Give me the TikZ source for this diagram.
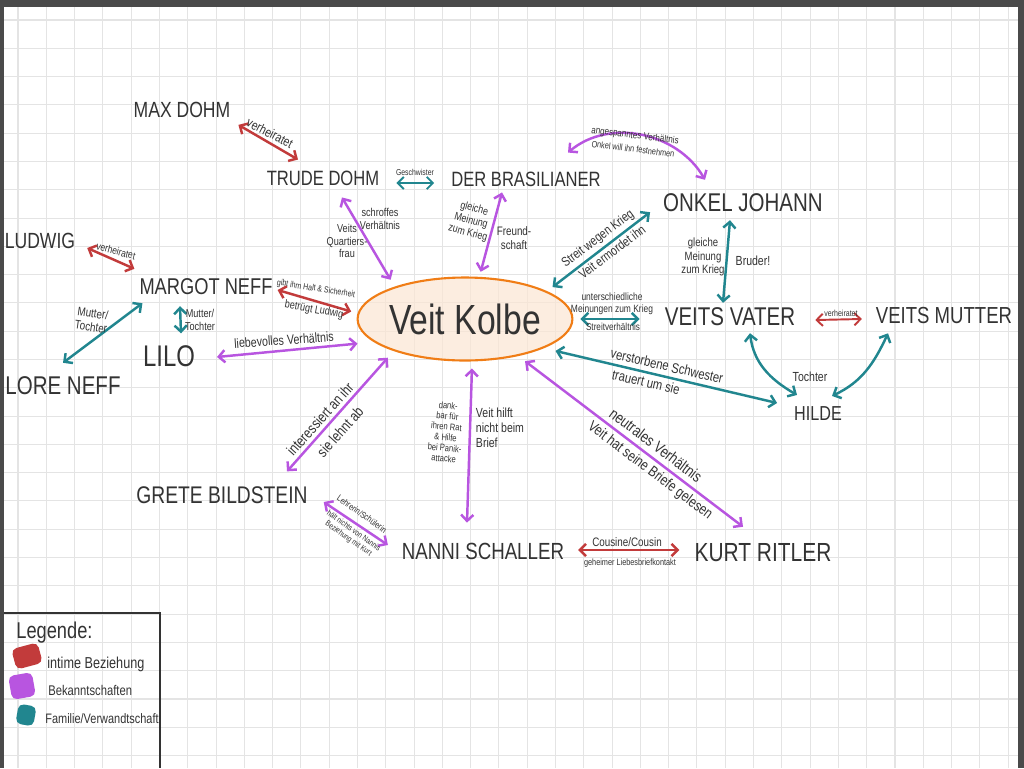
\documentclass[tikz,border=0pt]{standalone}
\usepackage{fontspec}
\newfontfamily\hand[FakeStretch=0.8]{Liberation Sans}
\newcommand\hw[1]{\hand\fontsize{#1}{\fpeval{1.12*#1}}\selectfont}
\usetikzlibrary{arrows.meta,shapes.geometric}
\definecolor{ink}{HTML}{333333}
\definecolor{frame}{HTML}{4A4A4A}
\definecolor{gridgray}{HTML}{E4E4E4}
\definecolor{intimred}{HTML}{C23B3B}
\definecolor{lila}{HTML}{B855E0}
\definecolor{petrol}{HTML}{21868F}
\definecolor{kolbe}{HTML}{F07D16}
\definecolor{kolbefill}{HTML}{FCE6D4}
\begin{document}
\begin{tikzpicture}[x=0.02cm, y=-0.02cm,
  person/.style={font=\hw{#1}, text=ink, inner sep=1pt},
  person/.default=13.5,
  lbl/.style={font=\hw{#1}, text=ink, inner sep=0pt, align=center},
  lbl/.default=7,
  rel/.style={draw=#1, line width=1.4pt, line cap=round, <->},
  intim/.style={rel=intimred},
  bekannt/.style={rel=lila},
  familie/.style={rel=petrol},
  swatch/.style={rounded corners=3pt, inner sep=0pt},
  >={Straight Barb[length=3.5pt,width=7pt]}]
  \useasboundingbox (0,0) rectangle (1024,768);
  \fill[white] (0,0) rectangle (1024,768);
  \foreach \i in {0,...,35}
    \draw[gridgray, line width=0.6pt] ({18+28.29*\i},0) -- ({18+28.29*\i},768);
  \foreach \j in {0,...,26}
    \draw[gridgray, line width=0.6pt] (0,{20+28.29*\j}) -- (1024,{20+28.29*\j});
  \fill[frame] (0,0) rectangle (1024,7);
  \fill[frame] (0,0) rectangle (4,768);
  \fill[frame] (1018,0) rectangle (1024,768);

  % people
  \node[ellipse, draw=kolbe, line width=1.2pt, fill=kolbefill, fill opacity=0.7, text opacity=1,
        minimum width=4.04cm, minimum height=1.66cm, inner sep=0pt, font=\hw{24}, text=ink] (veit) at (465,319) {Veit Kolbe};
  \node[person=12.5] (maxdohm) at (182,110) {MAX DOHM};
  \node[person=11.8] (trude) at (323,178) {TRUDE DOHM};
  \node[person=11.8] (brasil) at (526,179) {DER BRASILIANER};
  \node[person=14.6] (onkel) at (743,203) {ONKEL JOHANN};
  \node[person=12.5] (ludwig) at (40,241) {LUDWIG};
  \node[person=13] (margot) at (206,287) {MARGOT NEFF};
  \node[person=17] (lilo) at (169,356) {LILO};
  \node[person=14.6] (lore) at (63,386) {LORE NEFF};
  \node[person=14.6] (vater) at (730,317) {VEITS VATER};
  \node[person=13.2] (mutter) at (944,316) {VEITS MUTTER};
  \node[person=11.5] (hilde) at (818,414) {HILDE};
  \node[person=13.7] (grete) at (222,495) {GRETE BILDSTEIN};
  \node[person=13.3] (nanni) at (483,551) {NANNI SCHALLER};
  \node[person=14.9] (kurt) at (763,553) {KURT RITLER};

  % relations
  \draw[intim] ([shift={(6,5)}]maxdohm.south east) -- ([shift={(-25,-9)}]trude.north);
  \draw[familie, line width=1.1pt] ([shift={(15,5)}]trude.east) -- ([shift={(-15,4)}]brasil.west);
  \draw[bekannt] ([shift={(19,10)}]trude.south) -- ([shift={(-10,-5)}]veit.152);
  \draw[bekannt] ([shift={(-24,4)}]brasil.south) -- ([shift={(2,-5)}]veit.72);
  \draw[bekannt] ([shift={(42,-17)}]brasil.north) to[out=40,in=120] ([shift={(-38,-12)}]onkel.north);
  \draw[familie] ([shift={(-11,-2)}]onkel.south west) -- ([shift={(8,-3)}]veit.20);
  \draw[familie] ([shift={(-13,6)}]onkel.south) -- ([shift={(-7,-3)}]vater.north);
  \draw[familie] ([shift={(7,0)}]veit.east) -- ([shift={(-23,2)}]vater.west);
  \draw[intim, line width=1.1pt] ([shift={(18,3)}]vater.east) -- ([shift={(-12,3)}]mutter.west);
  \draw[familie] ([shift={(20,5)}]vater.south) to[out=-83,in=150] ([shift={(-21,-10)}]hilde.north);
  \draw[familie] ([shift={(-56,7)}]mutter.south) to[out=-115,in=25] ([shift={(14,-9)}]hilde.north);
  \draw[familie] ([shift={(11,3)}]veit.-20) -- ([shift={(-15,-11)}]hilde.west);
  \draw[bekannt] ([shift={(7,5)}]veit.-35) -- ([shift={(-20,-15)}]kurt.north);
  \draw[bekannt] ([shift={(1,7)}]veit.-82) -- ([shift={(-16,-18)}]nanni.north);
  \draw[bekannt] ([shift={(-11,5)}]veit.207) -- ([shift={(65,-13)}]grete.north);
  \draw[bekannt] ([shift={(-14,3)}]veit.193) -- ([shift={(20,1)}]lilo.east);
  \draw[intim] ([shift={(-7,0)}]veit.176) -- ([shift={(3,3)}]margot.east);
  \draw[intim] ([shift={(10,7)}]ludwig.east) -- ([shift={(-3,-8)}]margot.north west);
  \draw[familie] ([shift={(-26,9)}]margot.south) -- ([shift={(12,-10)}]lilo.north);
  \draw[familie] ([shift={(5,6)}]margot.south west) -- ([shift={(0,-12)}]lore.north);
  \draw[bekannt] ([shift={(14,7)}]grete.east) -- ([shift={(-12,-6)}]nanni.west);
  \draw[intim] ([shift={(12,-1)}]nanni.east) -- ([shift={(-13,-3)}]kurt.west);

  % relation labels
  \node[lbl=7.5, rotate=-27] (tMaxTrude) at (270,133) {verheiratet};
  \node[lbl=4.9] (tGeschw) at (415,172) {Geschwister};
  \node[lbl=6.5] (tSchroff) at (380,219) {schroffes\\Verhältnis};
  \node[lbl=6.5] (tQuartier) at (347,241) {Veits\\Quartiers-\\frau};
  \node[lbl=6.3, rotate=-15] (tMeinBras) at (471,221) {gleiche\\Meinung\\zum Krieg};
  \node[lbl=7] (tFreund) at (514,238) {Freund-\\schaft};
  \node[lbl=5.7, rotate=-7] (tAngesp) at (635,136) {angespanntes Verhältnis};
  \node[lbl=5.2, rotate=-7] (tFestn) at (633,149) {Onkel will ihn festnehmen};
  \node[lbl=7.5, rotate=37] (tStreit) at (598,239) {Streit wegen Krieg};
  \node[lbl=7.5, rotate=37] (tMord) at (612,252) {Veit ermordet ihn};
  \node[lbl=6.8] (tMeinVater) at (703,257) {gleiche\\Meinung\\zum Krieg};
  \node[lbl=7.5] (tBruder) at (753,261) {Bruder!};
  \node[lbl=6] (tUnter) at (612,304) {unterschiedliche\\Meinungen zum Krieg};
  \node[lbl=5.8] (tStreitv) at (613,327) {Streitverhältnis};
  \node[lbl=5] (tVerhVM) at (841,313) {verheiratet};
  \node[lbl=7.5] (tTochter) at (810,377) {Tochter};
  \node[lbl=8, rotate=-13] (tSchwester) at (667,366) {verstorbene Schwester};
  \node[lbl=8, rotate=-13] (tTrauert) at (646,382) {trauert um sie};
  \node[lbl=9, rotate=-37] (tNeutral) at (656,445) {neutrales Verhältnis};
  \node[lbl=8.5, rotate=-37] (tBriefe) at (650,471) {Veit hat seine Briefe gelesen};
  \node[lbl=5.4, rotate=-5] (tDankbar) at (446,432) {dank-\\bar für\\ihren Rat\\\& Hilfe\\bei Panik-\\attacke};
  \node[lbl=7.5, align=left] (tHilft) at (500,428) {Veit hilft\\nicht beim\\Brief};
  \node[lbl=8.5, rotate=48] (tInteress) at (320,419) {interessiert an ihr};
  \node[lbl=8.5, rotate=48] (tLehnt) at (340,432) {sie lehnt ab};
  \node[lbl=7.6, rotate=4] (tLiebe) at (284,340) {liebevolles Verhältnis};
  \node[lbl=5, rotate=-9] (tHalt) at (316,289) {gibt ihm Halt \& Sicherheit};
  \node[lbl=6.4, rotate=-10] (tBetrug) at (314,310) {betrügt Ludwig};
  \node[lbl=6, rotate=-15] (tVerhLM) at (116,251) {verheiratet};
  \node[lbl=6.5] (tMTLilo) at (200,320) {Mutter/\\Tochter};
  \node[lbl=7, rotate=-8] (tMTLore) at (92,320) {Mutter/\\Tochter};
  \node[lbl=5.1, rotate=-35] (tLehrer) at (362,514) {Lehrerin/Schülerin};
  \node[lbl=4.6, rotate=-35] (tHaelt) at (351,535) {hält nichts von Nannis\\Beziehung mit Kurt};
  \node[lbl=7] (tCousin) at (627,542) {Cousine/Cousin};
  \node[lbl=5.2] (tGeheim) at (630,563) {geheimer Liebesbriefkontakt};

  % legend
  \draw[ink, line width=1.3pt] (4,613) -- (160,613) -- (160,768);
  \node[lbl=13, anchor=west] (legTitel) at (16,633) {Legende:};
  \node[swatch, fill=intimred, minimum width=0.54cm, minimum height=0.42cm, rotate=15] (swIntim) at (27,656) {};
  \node[swatch, fill=lila, minimum width=0.48cm, minimum height=0.48cm, rotate=10] (swBekannt) at (22,686) {};
  \node[swatch, fill=petrol, minimum width=0.36cm, minimum height=0.4cm, rotate=-10] (swFam) at (26,715) {};
  \node[lbl=9, anchor=west] (legIntim) at (47,664) {intime Beziehung};
  \node[lbl=8, anchor=west] (legBekannt) at (48,690) {Bekanntschaften};
  \node[lbl=7.8, anchor=west] (legFam) at (45,719) {Familie/Verwandtschaft};
\end{tikzpicture}
\end{document}
